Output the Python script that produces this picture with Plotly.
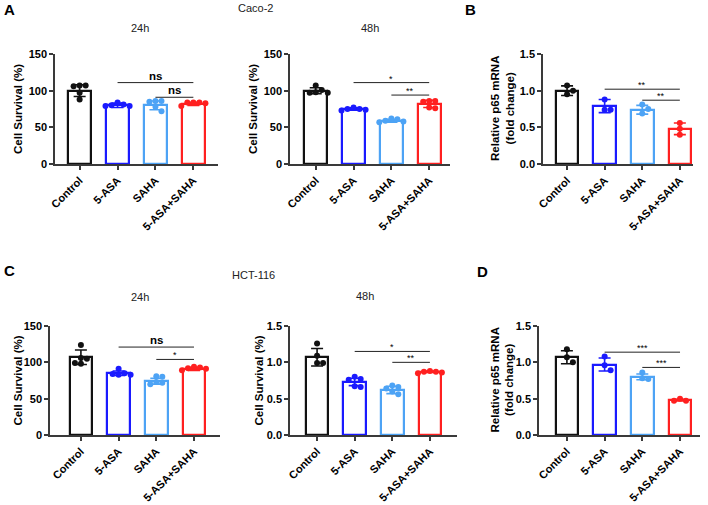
import plotly.graph_objects as go

W, H = 708, 505

groups = ['Control', '5-ASA', 'SAHA', '5-ASA+SAHA']
colors = ['#111111', '#1a1aff', '#4da3f5', '#ff2020']

# Caco-2, 24h cell survival (%)
caco24_mean = [100, 80, 80, 82]
caco24_sd = [8, 3, 6, 2]
caco24_pts = [[107, 107, 106, 97, 88], [84, 81, 80, 79, 79],
              [86, 85, 86, 78, 72], [84, 84, 84, 83, 79]]
caco24_sig = [(1, 3, 111, 'ns'), (2, 3, 91, 'ns')]

# Caco-2, 48h cell survival (%)
caco48_mean = [100, 75, 59, 82]
caco48_sd = [4, 1.5, 2, 5]
caco48_pts = [[107, 101, 97, 97, 98], [77, 75, 75, 74, 73],
              [62, 61, 59, 57, 58], [86, 85, 86, 76, 77]]
caco48_sig = [(1, 3, 111, '*'), (2, 3, 94, '**')]

# Caco-2, relative p65 mRNA
cacop65_mean = [1.00, 0.79, 0.74, 0.48]
cacop65_sd = [0.065, 0.09, 0.06, 0.08]
cacop65_pts = [[1.07, 1.00, 0.95], [0.88, 0.74, 0.74],
               [0.81, 0.75, 0.69], [0.56, 0.48, 0.40]]
cacop65_sig = [(1, 3, 1.02, '**'), (2, 3, 0.87, '**')]

# HCT-116, 24h cell survival (%)
hct24_mean = [107, 85, 74, 91]
hct24_sd = [10, 3, 4, 2]
hct24_pts = [[124, 106, 105, 99, 98], [91, 84, 83, 83, 85],
             [81, 80, 73, 72, 70], [94, 93, 92, 91, 89]]
hct24_sig = [(1, 3, 121, 'ns'), (2, 3, 104, '*')]

# HCT-116, 48h cell survival
hct48_mean = [1.07, 0.73, 0.62, 0.87]
hct48_sd = [0.12, 0.05, 0.05, 0.01]
hct48_pts = [[1.26, 1.09, 0.99, 0.99], [0.80, 0.77, 0.76, 0.67, 0.66],
             [0.68, 0.66, 0.64, 0.56, 0.60], [0.88, 0.87, 0.87, 0.86, 0.85]]
hct48_sig = [(1, 3, 1.15, '*'), (2, 3, 1.0, '**')]

# HCT-116, relative p65 mRNA
hctp65_mean = [1.07, 0.97, 0.80, 0.48]
hctp65_sd = [0.09, 0.09, 0.04, 0.01]
hctp65_pts = [[1.18, 1.07, 1.00], [1.08, 0.96, 0.89],
              [0.86, 0.78, 0.77], [0.50, 0.47, 0.47]]
hctp65_sig = [(1, 3, 1.14, '***'), (2, 3, 0.93, '***')]

surv_title = 'Cell Survival (%)'
p65_title = 'Relative p65 mRNA<br>(fold change)'

# panel layout in window pixels: x-axis start/end, y-axis top/bottom, x range, y max
panels = [
    dict(mean=caco24_mean, sd=caco24_sd, pts=caco24_pts, sig=caco24_sig,
         x0=55, x1=218, yt=54, yb=164, xr=[-0.65, 3.65], ymax=150, dt=50,
         title=surv_title, tx=18),
    dict(mean=caco48_mean, sd=caco48_sd, pts=caco48_pts, sig=caco48_sig,
         x0=290, x1=450, yt=54, yb=164, xr=[-0.68, 3.55], ymax=150, dt=50,
         title=surv_title, tx=253),
    dict(mean=cacop65_mean, sd=cacop65_sd, pts=cacop65_pts, sig=cacop65_sig,
         x0=543, x1=693, yt=54, yb=164, xr=[-0.64, 3.35], ymax=1.5, dt=0.5,
         title=p65_title, tx=503),
    dict(mean=hct24_mean, sd=hct24_sd, pts=hct24_pts, sig=hct24_sig,
         x0=50, x1=220, yt=326, yb=435, xr=[-0.82, 3.69], ymax=150, dt=50,
         title=surv_title, tx=17),
    dict(mean=hct48_mean, sd=hct48_sd, pts=hct48_pts, sig=hct48_sig,
         x0=290, x1=457, yt=326, yb=435, xr=[-0.72, 3.72], ymax=1.5, dt=0.5,
         title=surv_title, tx=258),
    dict(mean=hctp65_mean, sd=hctp65_sd, pts=hctp65_pts, sig=hctp65_sig,
         x0=539, x1=700, yt=326, yb=435, xr=[-0.74, 3.53], ymax=1.5, dt=0.5,
         title=p65_title, tx=502),
]


def px(x):
    return x / W


def py(y):
    return 1 - y / H


def swarm(vals, ymax, dpx=6.0, cat_px=37.7, hgt=110):
    scale = hgt / ymax
    placed = []
    order = sorted(range(len(vals)), key=lambda i: -vals[i])
    res = [0] * len(vals)
    for i in order:
        v = vals[i]
        for c in [0, 1, -1, 2, -2, 3, -3]:
            ok = all(((v - pv) * scale) ** 2 + ((c - pc) * dpx) ** 2 >= dpx ** 2 * 0.9
                     for pv, pc in placed)
            if ok:
                break
        placed.append((v, c))
        res[i] = c * dpx / cat_px
    return res


fig = go.Figure()
annotations = []
shapes = []
font = 'Liberation Sans, Arial, sans-serif'

for k, p in enumerate(panels):
    n = '' if k == 0 else str(k + 1)
    xa, ya = 'x' + n, 'y' + n
    for g in range(4):
        fig.add_trace(go.Bar(
            x=[g], y=[p['mean'][g]], width=0.6, xaxis=xa, yaxis=ya,
            marker=dict(color='white', line=dict(color=colors[g], width=2.2)),
            error_y=dict(type='data', array=[p['sd'][g]], color=colors[g],
                         thickness=1.6, width=6),
            showlegend=False, hoverinfo='skip'))
        offs = swarm(p['pts'][g], p['ymax'])
        fig.add_trace(go.Scatter(
            x=[g + o for o in offs], y=p['pts'][g], mode='markers',
            xaxis=xa, yaxis=ya, showlegend=False,
            marker=dict(color=colors[g], size=6)))

    axis_common = dict(showline=True, linecolor='#3a3a3a', linewidth=1.5,
                       ticks='outside', ticklen=4, tickwidth=1.5, tickcolor='#3a3a3a',
                       showgrid=False, zeroline=False, automargin=False,
                       tickfont=dict(family=font, size=11, color='black', weight='bold'))
    fig.update_layout({
        'xaxis' + n: dict(axis_common, domain=[px(p['x0']), px(p['x1'])], anchor=ya,
                          range=p['xr'], tickvals=[0, 1, 2, 3], ticktext=groups,
                          tickangle=-45, fixedrange=True),
        'yaxis' + n: dict(axis_common, domain=[py(p['yb']), py(p['yt'])], anchor=xa,
                          range=[0, p['ymax']], dtick=p['dt'],
                          tickformat='.1f' if p['ymax'] < 10 else 'd'),
    })

    annotations.append(dict(
        text=p['title'], x=px(p['tx']), y=py((p['yt'] + p['yb']) / 2),
        xref='paper', yref='paper', textangle=-90, showarrow=False,
        xanchor='center', yanchor='middle',
        font=dict(family=font, size=11.5, color='black', weight='bold')))

    for a, b, yv, lab in p['sig']:
        shapes.append(dict(type='line', xref=xa, yref=ya, x0=a, x1=b, y0=yv, y1=yv,
                           line=dict(color='#222222', width=1)))
        is_ns = lab == 'ns'
        annotations.append(dict(
            text=lab, x=(a + b) / 2, y=yv, xref=xa, yref=ya, showarrow=False,
            xanchor='center', yanchor='bottom', yshift=-1 if is_ns else -3,
            font=dict(family=font, size=11.5 if is_ns else 9, color='black',
                      weight='bold' if is_ns else 'normal')))

labels = [('A', 9, 9), ('B', 470, 9), ('C', 9, 270), ('D', 483, 271)]
for t, x, y in labels:
    annotations.append(dict(text=t, x=px(x), y=py(y), xref='paper', yref='paper',
                            showarrow=False, xanchor='center', yanchor='middle',
                            font=dict(family=font, size=15, color='black', weight='bold')))

heads = [('Caco-2', 255, 8), ('24h', 140, 28), ('48h', 370, 28),
         ('HCT-116', 253, 275), ('24h', 140, 297), ('48h', 365, 296)]
for t, x, y in heads:
    annotations.append(dict(text=t, x=px(x), y=py(y), xref='paper', yref='paper',
                            showarrow=False, xanchor='center', yanchor='middle',
                            font=dict(family=font, size=11, color='#222222')))

fig.update_layout(
    width=W, height=H, margin=dict(l=0, r=0, t=0, b=0, autoexpand=False),
    paper_bgcolor='white', plot_bgcolor='white',
    annotations=annotations, shapes=shapes, bargap=0,
    font=dict(family=font),
)

# drop the default page margin so the figure fills the window exactly
fig.write_html('out.html', config={'displayModeBar': False},
               post_script="document.body.style.margin = '0';")
